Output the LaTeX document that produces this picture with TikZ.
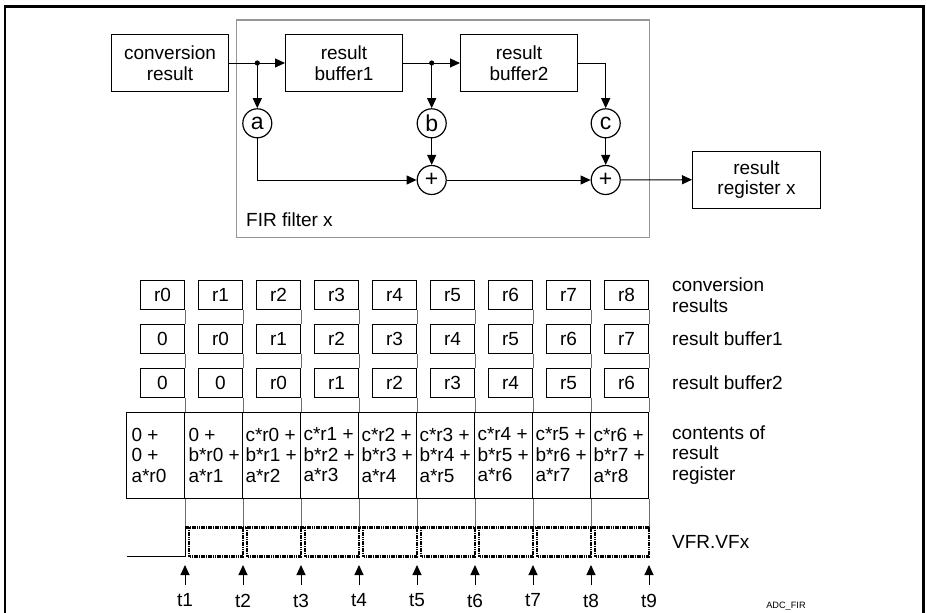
\documentclass[tikz,border=0pt]{standalone}
\usepackage{fontspec}
\setmainfont{Liberation Sans}
\usepackage{tikz}
\usetikzlibrary{arrows.meta, positioning, calc}
\definecolor{cframe}{RGB}{150,150,150}
\definecolor{cgrid}{RGB}{110,110,110}

\begin{document}
\begin{tikzpicture}[
    x=1pt, y=-1pt,
    line width=1pt,
    >={Triangle[length=10pt,width=9pt]},
    every node/.style={font=\fontsize{19}{20.5}\selectfont},
    blockbox/.style={draw, minimum width=117pt, minimum height=57pt, align=center, inner sep=2pt},
    coef/.style={draw, circle, line width=1.2pt, minimum size=29pt, inner sep=0pt, font=\fontsize{23}{24}\selectfont},
    sample/.style={draw, minimum width=44pt, minimum height=28.5pt, inner sep=0pt},
    regcell/.style={draw, minimum width=58pt, minimum height=86pt, inner sep=0pt},
    celltext/.style={anchor=west, align=left, inner sep=0pt},
    gridline/.style={cgrid, line width=0.6pt},
    vfbit/.style={line width=2.8pt, dash pattern=on 1.6pt off 0.7pt},
    sidelabel/.style={anchor=west, align=left, inner sep=0pt},
]
    \useasboundingbox (0,0) rectangle (927,613);

    % Outer frame (bottom edge lies outside the picture)
    \draw[line width=2.2pt] (5,613) -- (5,6.5) -- (923.5,6.5) -- (923.5,613);

    % FIR filter block
    \node[draw=cframe, line width=1.2pt, minimum width=412.6pt, minimum height=217.7pt] (fir) at (443,128.85) {};
    \node[anchor=west, inner sep=0pt] (firlbl) at (245.7,220) {FIR filter x};

    % Buffers and result register
    \node[blockbox] (conv) at (170,63) {conversion\\result};
    \node[blockbox] (buf1) at (344,63) {result\\buffer1};
    \node[blockbox] (buf2) at (519,63) {result\\buffer2};
    \node[blockbox, minimum width=128pt] (reg) at (756.5,179.5) {result\\register x};

    % Coefficients and adders
    \node[coef] (ca) at (257.3,123.3) {a};
    \node[coef] (cb) at (431.7,123.3) {b};
    \node[coef] (cc) at (605.7,123.3) {c};
    \node[coef] (sum1) at (431.7,180) {+};
    \node[coef] (sum2) at (605.7,180) {+};

    \coordinate (j1) at (ca |- conv);
    \coordinate (j2) at (cb |- buf1);
    \fill (j1) circle (2.6pt);
    \fill (j2) circle (2.6pt);

    \draw[->] (conv) -- (buf1);
    \draw[->] (j1) -- (ca);
    \draw[->] (buf1) -- (buf2);
    \draw[->] (j2) -- (cb);
    \draw[->] (buf2.east) -| (cc);
    \draw[->] (ca) |- (sum1);
    \draw[->] (cb) -- (sum1);
    \draw[->] (cc) -- (sum2);
    \draw[->] (sum1) -- (sum2);
    \draw[->] (sum2) -- (reg);

    % Sample rows, register contents and time marks
    \coordinate (sigstart) at (127,556.7);
    \foreach \i in {1,...,9} {
        \pgfmathsetmacro\tx{185+58*(\i-1)}
        \pgfmathtruncatemacro\ka{\i-1}
        \pgfmathtruncatemacro\kb{\i-2}
        \pgfmathtruncatemacro\kc{\i-3}
        \node[sample, anchor=east] (cr\i) at (\tx,295) {r\ka};
        \node[sample, anchor=east] (bo\i) at (\tx,339) {\ifnum\kb<0 0\else r\kb\fi};
        \node[sample, anchor=east] (bt\i) at (\tx,383) {\ifnum\kc<0 0\else r\kc\fi};
        \node[regcell, anchor=east] (rr\i) at (\tx,455) {};
        \ifnum\i=1
            \node[celltext] (rt\i) at ([xshift=5pt]rr\i.west) {0 +\\0 +\\a*r0};
        \else\ifnum\i=2
            \node[celltext] (rt\i) at ([xshift=4pt]rr\i.west) {0 +\\b*r0 +\\a*r1};
        \else
            \node[celltext] (rt\i) at ([xshift=3pt]rr\i.west) {c*r\kc{} +\\b*r\kb{} +\\a*r\ka};
        \fi\fi
        \coordinate (hi\i) at (\tx,527.3);
        \coordinate (lo\i) at (\tx,556.7);
        \node[inner sep=0pt] (tl\i) at (\tx,600.5) {t\i};
        \draw[gridline] (cr\i.south east) -- (bo\i.north east);
        \draw[gridline] (bo\i.south east) -- (bt\i.north east);
        \draw[gridline] (bt\i.south east) -- (rr\i.north east);
        \draw[gridline] (rr\i.south east) -- (hi\i);
        \draw[->, shorten <=8pt, shorten >=8.3pt] (tl\i.north) -- (lo\i);
    }

    % VFR.VFx signal
    \draw (sigstart) -- (lo1) -- (hi1);
    \draw[vfbit] (hi1) -- (hi9);
    \foreach \i [evaluate=\i as \j using int(\i+1)] in {1,...,8}
        \draw[vfbit] ([xshift=4pt]hi\i) -- ([xshift=4pt]lo\i) -- (lo\j) -- (hi\j);

    % Row labels
    \node[sidelabel] (lblcr) at (671.7,295) {conversion\\results};
    \node[sidelabel] (lblbo) at (671.7,339) {result buffer1};
    \node[sidelabel] (lblbt) at (671.7,383) {result buffer2};
    \node[sidelabel] (lblrr) at (671.7,455) {contents of\\result\\register};
    \node[sidelabel] (lblvf) at (671.7,542) {VFR.VFx};
    \node[font=\fontsize{9.2}{10}\selectfont] (tag) at (786,606.5) {ADC\_FIR};
\end{tikzpicture}
\end{document}
